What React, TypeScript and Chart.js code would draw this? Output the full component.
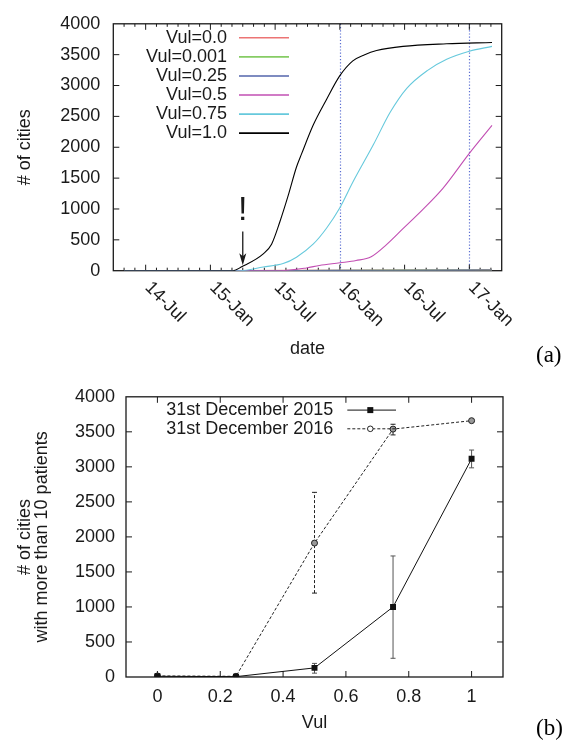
import React, { useEffect, useRef } from 'react';
import { Chart, registerables } from 'chart.js';

Chart.register(...registerables);

const SANS = '"Liberation Sans", Arial, Helvetica, sans-serif';
const SERIF = '"Liberation Serif", "Times New Roman", serif';
const INK = '#1a1a1a';

// ---------------- Panel (a) data ----------------
const monthTicks = [6, 12, 18, 24, 30, 36];
const monthTickLabels = ['14-Jul', '15-Jan', '15-Jul', '16-Jan', '16-Jul', '17-Jan'];
const minorMonthTicks = [4, 5, 7, 8, 9, 10, 11, 13, 14, 15, 16, 17, 19, 20, 21, 22, 23, 25, 26, 27, 28, 29, 31, 32, 33, 34, 35, 37, 38];
const referenceMonths = [24, 36];
const cityTicks = [0, 500, 1000, 1500, 2000, 2500, 3000, 3500, 4000];

const vulNames = ['Vul=0.0', 'Vul=0.001', 'Vul=0.25', 'Vul=0.5', 'Vul=0.75', 'Vul=1.0'];
const vulColors = ['#ec7474', '#86cc64', '#5365ab', '#c24fb3', '#66c9dc', '#000000'];

const months00 = [4, 15, 24, 36, 38.1];
const cities00 = [0, 1, 8, 12, 13];
const months0001 = [4, 15, 24, 36, 38.1];
const cities0001 = [0, 1, 7, 11, 12];
const months025 = [4, 15, 24, 36, 38.1];
const cities025 = [0, 2, 6, 10, 12];
const months05 = [4, 18.4, 20.9, 22.1, 24.0, 25.5, 26.9, 28.3, 29.85, 31.7, 33.55, 36.0, 38.1];
const cities05 = [0, 0, 45, 85, 128, 165, 225, 418, 680, 993, 1333, 1900, 2353];
const months075 = [4, 14.7, 16.9, 18.74, 19.98, 21.52, 22.76, 24.0, 25.22, 27.1, 28.65, 30.2, 32.1, 33.9, 36.0, 38.1];
const cities075 = [0, 0, 60, 115, 219, 429, 688, 1020, 1440, 2039, 2562, 2954, 3242, 3425, 3556, 3634];
const months10 = [4, 14.1, 14.9, 16.9, 17.67, 18.44, 19.2, 19.98, 20.44, 21.52, 22.75, 24.0, 25.2, 26.3, 27.4, 29.85, 33.9, 38.1];
const cities10 = [0, 0, 63, 272, 429, 793, 1211, 1680, 1888, 2357, 2771, 3160, 3400, 3500, 3566, 3634, 3676, 3697];

const vulMonths = [months00, months0001, months025, months05, months075, months10];
const vulCities = [cities00, cities0001, cities025, cities05, cities075, cities10];

const arrowMonth = 15;
const arrowFromCities = 636;
const arrowToCities = 89;
const bangCities = 824;

// ---------------- Panel (b) data ----------------
const vulValues = [0, 0.25, 0.5, 0.75, 1];
const vulTicks = [0, 0.2, 0.4, 0.6, 0.8, 1];
const vulTickLabels = ['0', '0.2', '0.4', '0.6', '0.8', '1'];
const seriesNamesB = ['31st December 2015', '31st December 2016'];
const dec2015 = [10, 5, 130, 1000, 3115];
const dec2015Low = [5, 2, 55, 267, 2986];
const dec2015High = [15, 8, 194, 1728, 3240];
const dec2016 = [15, 10, 1912, 3539, 3659];
const dec2016Low = [10, 6, 1198, 3456, 3645];
const dec2016High = [20, 14, 2636, 3608, 3673];

// ---------------- helpers ----------------
function drawFrame(chart: any, xMajor: number[], xMinor: number[], yMajor: number[]) {
  const { ctx, chartArea: a, scales } = chart;
  const x = scales.x;
  const y = scales.y;
  ctx.save();
  ctx.strokeStyle = INK;
  ctx.lineWidth = 1;
  ctx.setLineDash([]);
  ctx.beginPath();
  const tickX = (v: number, len: number) => {
    const px = x.getPixelForValue(v);
    if (px <= a.left + 1 || px >= a.right - 1) return;
    ctx.moveTo(px, a.bottom);
    ctx.lineTo(px, a.bottom - len);
    ctx.moveTo(px, a.top);
    ctx.lineTo(px, a.top + len);
  };
  xMajor.forEach((v) => tickX(v, 6));
  xMinor.forEach((v) => tickX(v, 3));
  yMajor.forEach((v) => {
    const py = y.getPixelForValue(v);
    if (py <= a.top + 1 || py >= a.bottom - 1) return;
    ctx.moveTo(a.left, py);
    ctx.lineTo(a.left + 6, py);
    ctx.moveTo(a.right, py);
    ctx.lineTo(a.right - 6, py);
  });
  ctx.stroke();
  ctx.lineWidth = 1.3;
  ctx.strokeRect(a.left, a.top, a.right - a.left, a.bottom - a.top);
  ctx.restore();
}

const panelAPlugin = {
  id: 'panelA',
  beforeDatasetsDraw(chart: any) {
    const { ctx, chartArea: a, scales } = chart;
    const x = scales.x;
    ctx.save();
    ctx.strokeStyle = '#5b6ed2';
    ctx.lineWidth = 1.2;
    ctx.setLineDash([1.2, 2]);
    referenceMonths.forEach((m) => {
      const px = Math.round(x.getPixelForValue(m)) + 0.5;
      ctx.beginPath();
      ctx.moveTo(px, a.top);
      ctx.lineTo(px, a.bottom);
      ctx.stroke();
    });
    ctx.restore();
    drawFrame(chart, monthTicks, minorMonthTicks, cityTicks);
  },
  afterDatasetsDraw(chart: any) {
    const { ctx, chartArea: a, scales } = chart;
    const x = scales.x;
    const y = scales.y;
    ctx.save();
    // rotated date labels
    ctx.fillStyle = INK;
    ctx.font = `18px ${SANS}`;
    ctx.textAlign = 'left';
    ctx.textBaseline = 'middle';
    monthTicks.forEach((m, i) => {
      const px = x.getPixelForValue(m);
      ctx.save();
      ctx.translate(px + 2, a.bottom + 14);
      ctx.rotate(Math.PI / 4);
      ctx.fillText(monthTickLabels[i], 0, 0);
      ctx.restore();
    });
    // exclamation and arrow
    const ax = x.getPixelForValue(arrowMonth);
    ctx.font = `34px ${SANS}`;
    ctx.textAlign = 'center';
    ctx.textBaseline = 'alphabetic';
    ctx.fillText('!', ax, y.getPixelForValue(bangCities));
    const y0 = y.getPixelForValue(arrowFromCities);
    const y1 = y.getPixelForValue(arrowToCities);
    ctx.strokeStyle = INK;
    ctx.lineWidth = 1.3;
    ctx.beginPath();
    ctx.moveTo(ax, y0);
    ctx.lineTo(ax, y1 - 4);
    ctx.stroke();
    ctx.beginPath();
    ctx.moveTo(ax, y1);
    ctx.lineTo(ax - 3.5, y1 - 12);
    ctx.lineTo(ax, y1 - 9);
    ctx.lineTo(ax + 3.5, y1 - 12);
    ctx.closePath();
    ctx.fill();
    // legend
    ctx.font = `18px ${SANS}`;
    ctx.textAlign = 'right';
    ctx.textBaseline = 'middle';
    chart.data.datasets.forEach((ds: any, i: number) => {
      const ly = a.top + 14 + i * 19.07;
      ctx.fillStyle = INK;
      ctx.fillText(ds.label, a.left + 113.7, ly);
      ctx.strokeStyle = ds.borderColor;
      ctx.lineWidth = 1.6;
      ctx.beginPath();
      ctx.moveTo(a.left + 125.7, ly);
      ctx.lineTo(a.left + 175.7, ly);
      ctx.stroke();
    });
    // panel tag
    ctx.font = `23px ${SERIF}`;
    ctx.textAlign = 'left';
    ctx.fillStyle = '#000';
    ctx.fillText('(a)', 536, 356);
    ctx.restore();
  },
};

const panelBPlugin = {
  id: 'panelB',
  beforeDatasetsDraw(chart: any) {
    drawFrame(chart, vulTicks, [], cityTicks);
    const { ctx, scales } = chart;
    const x = scales.x;
    const y = scales.y;
    const bars = [
      { low: dec2015Low, high: dec2015High, color: '#555', dash: [] as number[] },
      { low: dec2016Low, high: dec2016High, color: '#222', dash: [3, 2] },
    ];
    ctx.save();
    ctx.lineWidth = 1;
    bars.forEach((b) => {
      ctx.strokeStyle = b.color;
      vulValues.forEach((v, i) => {
        const px = x.getPixelForValue(v);
        const pl = y.getPixelForValue(b.low[i]);
        const ph = y.getPixelForValue(b.high[i]);
        ctx.setLineDash(b.dash);
        ctx.beginPath();
        ctx.moveTo(px, pl);
        ctx.lineTo(px, ph);
        ctx.stroke();
        ctx.setLineDash([]);
        ctx.beginPath();
        ctx.moveTo(px - 2.5, pl);
        ctx.lineTo(px + 2.5, pl);
        ctx.moveTo(px - 2.5, ph);
        ctx.lineTo(px + 2.5, ph);
        ctx.stroke();
      });
    });
    ctx.restore();
  },
  afterDatasetsDraw(chart: any) {
    const { ctx, chartArea: a } = chart;
    ctx.save();
    ctx.font = `18px ${SANS}`;
    ctx.textAlign = 'right';
    ctx.textBaseline = 'middle';
    chart.data.datasets.forEach((ds: any, i: number) => {
      const ly = a.top + 13.3 + i * 18.7;
      ctx.fillStyle = INK;
      ctx.fillText(ds.label, a.left + 207.3, ly);
      ctx.strokeStyle = ds.borderColor;
      ctx.lineWidth = 1;
      ctx.setLineDash(ds.borderDash || []);
      ctx.beginPath();
      ctx.moveTo(a.left + 221.3, ly);
      ctx.lineTo(a.left + 270, ly);
      ctx.stroke();
      ctx.setLineDash([]);
      const mx = a.left + 244.3;
      if (i === 0) {
        ctx.fillStyle = '#111';
        ctx.fillRect(mx - 3, ly - 3, 6, 6);
      } else {
        ctx.fillStyle = '#fff';
        ctx.strokeStyle = '#222';
        ctx.beginPath();
        ctx.arc(mx, ly, 2.8, 0, Math.PI * 2);
        ctx.fill();
        ctx.stroke();
      }
    });
    ctx.font = `23px ${SERIF}`;
    ctx.textAlign = 'left';
    ctx.fillStyle = '#000';
    ctx.fillText('(b)', 536, 354);
    ctx.restore();
  },
};

const tickFont = { family: SANS, size: 18 };

function PanelA() {
  const ref = useRef<HTMLCanvasElement | null>(null);
  useEffect(() => {
    if (!ref.current) return;
    const chart = new Chart(ref.current, {
      type: 'line',
      data: {
        datasets: vulNames.map((name, i) => ({
          label: name,
          data: vulMonths[i].map((m, j) => ({ x: m, y: vulCities[i][j] })),
          borderColor: vulColors[i],
          backgroundColor: vulColors[i],
          borderWidth: 1.1,
          pointRadius: 0,
          cubicInterpolationMode: 'monotone',
          order: vulNames.length - i,
        })),
      },
      options: {
        animation: false,
        responsive: false,
        events: [],
        layout: { padding: { top: 15, left: 0, right: 69.3, bottom: 0 } },
        plugins: { legend: { display: false }, tooltip: { enabled: false } },
        scales: {
          x: {
            type: 'linear',
            min: 3,
            max: 39,
            grid: { display: false, drawTicks: false },
            border: { display: false },
            ticks: { display: false },
            title: { display: true, text: 'date', color: INK, font: { family: SANS, size: 18 }, padding: { top: 0, bottom: 15.2 } },
            afterFit: (s: any) => { s.height = 104.3; },
          },
          y: {
            min: 0,
            max: 4000,
            grid: { display: false, drawTicks: false },
            border: { display: false },
            ticks: { color: INK, font: tickFont, padding: 13, callback: (v: any) => String(v) },
            afterBuildTicks: (s: any) => { s.ticks = cityTicks.map((v) => ({ value: v })); },
            title: { display: true, text: '# of cities', color: INK, font: { family: SANS, size: 18 }, padding: { top: 14.2, bottom: 0 } },
            afterFit: (s: any) => { s.width = 113.3; },
          },
        },
      },
      plugins: [panelAPlugin],
    } as any);
    return () => chart.destroy();
  }, []);
  return <canvas ref={ref} width={571} height={375} style={{ position: 'absolute', left: 0, top: 0, width: 571, height: 375 }} />;
}

function PanelB() {
  const ref = useRef<HTMLCanvasElement | null>(null);
  useEffect(() => {
    if (!ref.current) return;
    const chart = new Chart(ref.current, {
      type: 'line',
      data: {
        datasets: [
          {
            label: seriesNamesB[0],
            data: vulValues.map((v, i) => ({ x: v, y: dec2015[i] })),
            borderColor: '#111',
            backgroundColor: '#111',
            borderWidth: 1,
            pointStyle: 'rect',
            pointRadius: 4.2,
            pointBackgroundColor: '#111',
            pointBorderColor: '#111',
            pointBorderWidth: 0,
          },
          {
            label: seriesNamesB[1],
            data: vulValues.map((v, i) => ({ x: v, y: dec2016[i] })),
            borderColor: '#222',
            backgroundColor: '#999',
            borderWidth: 1,
            borderDash: [3, 2],
            pointStyle: 'circle',
            pointRadius: 3,
            pointBackgroundColor: '#999',
            pointBorderColor: '#222',
            pointBorderWidth: 1,
          },
        ],
      },
      options: {
        animation: false,
        responsive: false,
        events: [],
        layout: { padding: { top: 14, left: 0, right: 68, bottom: 0 } },
        plugins: { legend: { display: false }, tooltip: { enabled: false } },
        scales: {
          x: {
            type: 'linear',
            min: -0.1,
            max: 1.1,
            grid: { display: false, drawTicks: false },
            border: { display: false },
            ticks: { color: INK, font: tickFont, padding: 8.9, maxRotation: 0, callback: (_v: any, i: number) => vulTickLabels[i] },
            afterBuildTicks: (s: any) => { s.ticks = vulTicks.map((v) => ({ value: v })); },
            title: { display: true, text: 'Vul', color: INK, font: { family: SANS, size: 18 }, padding: { top: 0, bottom: 6.2 } },
            afterFit: (s: any) => { s.height = 63; },
          },
          y: {
            min: 0,
            max: 4000,
            grid: { display: false, drawTicks: false },
            border: { display: false },
            ticks: { color: INK, font: tickFont, padding: 11, callback: (v: any) => String(v) },
            afterBuildTicks: (s: any) => { s.ticks = cityTicks.map((v) => ({ value: v })); },
            title: {
              display: true,
              text: ['# of cities', 'with more than 10 patients'],
              color: INK,
              font: { family: SANS, size: 18, lineHeight: 0.93 },
              padding: { top: 16.6, bottom: 0 },
            },
            afterFit: (s: any) => { s.width = 126; },
          },
        },
      },
      plugins: [panelBPlugin],
    } as any);
    return () => chart.destroy();
  }, []);
  return <canvas ref={ref} width={571} height={365} style={{ position: 'absolute', left: 0, top: 375, width: 571, height: 365 }} />;
}

export default function App() {
  return (
    <div style={{ position: 'absolute', left: 0, top: 0, width: 571, height: 740, background: '#fff', overflow: 'hidden' }}>
      <PanelA />
      <PanelB />
    </div>
  );
}
